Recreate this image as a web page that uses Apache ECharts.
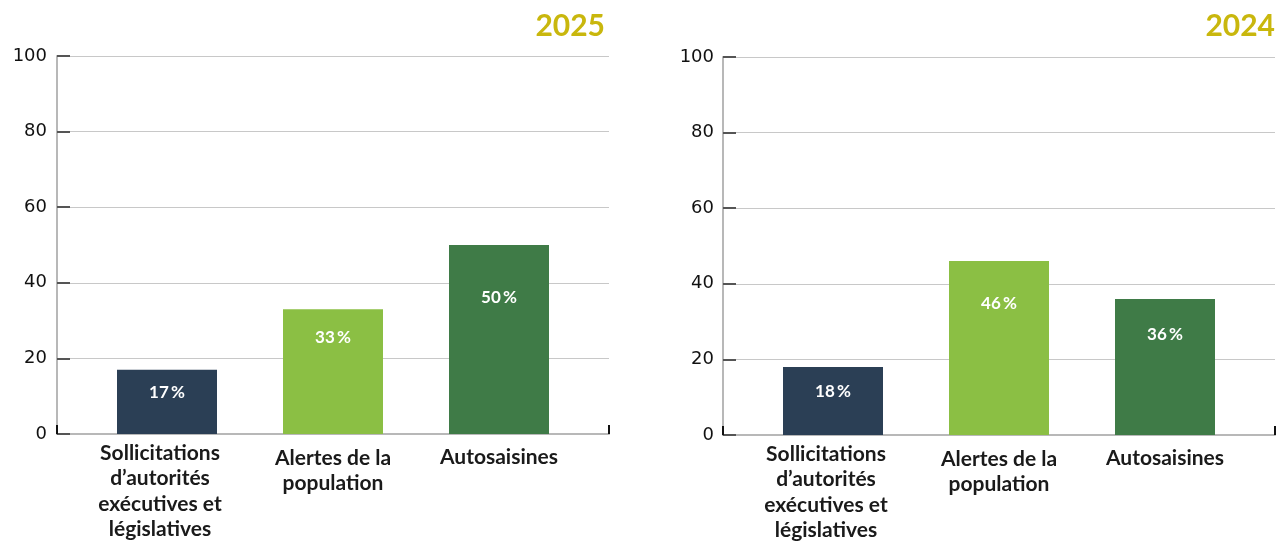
<!DOCTYPE html>
<html><head><meta charset="utf-8">
<script src="https://cdn.jsdelivr.net/npm/echarts@6/dist/echarts.min.js"></script>
<style>html,body{margin:0;padding:0;background:#fff}#c{width:1277px;height:542px}</style>
</head><body><div id="c"></div>
<script>
const categories = ['Sollicitations\nd\u2019autorités\nexécutives et\nlégislatives', 'Alertes de la\npopulation', 'Autosaisines'];
const values2025 = [17, 33, 50];
const values2024 = [18, 46, 36];
const yTicks = [0, 20, 40, 60, 80, 100];
const titles = ['2025', '2024'];

const barColors = ['#2b3f55', '#8bbf44', '#3f7b47'];
const labelDist = [[14, 20, 44], [16, 34, 27]];
const catPad = [[0, 14, 0, 0], [5, 0, 0, 0], [4, 0, 0, 0]];

const panels = [
  {vals: values2025, axisLeft: 57, top: 56, title: titles[0]},
  {vals: values2024, axisLeft: 723, top: 57, title: titles[1]}
];
const H = 378, W = 552, inset = 27;

const grid = [], xAxis = [], yAxis = [], series = [], title = [];
panels.forEach((p, i) => {
  const ga = grid.length;
  grid.push({left: p.axisLeft, top: p.top, width: W, height: H, outerBoundsMode: 'none'});
  grid.push({left: p.axisLeft + inset, top: p.top, width: W - 2 * inset, height: H, outerBoundsMode: 'none'});
  xAxis.push({gridIndex: ga, type: 'value', min: 0, max: 1, interval: 1,
    axisLine: {show: true, lineStyle: {color: '#b8b8b8', width: 2}},
    axisTick: {show: true, inside: true, length: 9, lineStyle: {color: '#111', width: 2}},
    axisLabel: {show: false}, splitLine: {show: false}});
  yAxis.push({gridIndex: ga, type: 'value', min: yTicks[0], max: yTicks[yTicks.length - 1], interval: yTicks[1] - yTicks[0],
    axisLine: {show: true, lineStyle: {color: '#b8b8b8', width: 2}},
    axisTick: {show: true, inside: true, length: 13, lineStyle: {color: '#555', width: 2}},
    axisLabel: {color: '#111', fontSize: 18, fontFamily: 'DejaVu Sans', margin: 10 - (i ? 1 : 0)},
    splitLine: {show: true, lineStyle: {color: '#c8c8c8', width: 1}}});
  xAxis.push({gridIndex: ga + 1, type: 'category',
    data: categories.map((c, k) => ({value: c, textStyle: {padding: catPad[k]}})),
    axisLine: {show: false}, axisTick: {show: false},
    axisLabel: {interval: 0, margin: 6, color: '#1a1a1a', fontSize: 21, fontWeight: 'bold',
      fontFamily: 'Lato', lineHeight: 25.5, verticalAlign: 'top'}});
  yAxis.push({gridIndex: ga + 1, type: 'value', min: 0, max: 100, show: false, splitLine: {show: false}});
  series.push({type: 'bar', xAxisIndex: ga + 1, yAxisIndex: ga + 1, barWidth: 100,
    data: p.vals.map((v, k) => ({value: v, itemStyle: {color: barColors[k]},
      label: {distance: labelDist[i][k]}})),
    label: {show: true, position: 'insideTop', color: '#fff', fontSize: 17, fontWeight: 'bold',
      fontFamily: 'Lato', formatter: '{c}\u2009%'}});
  title.push({text: p.title, right: 1277 - (p.axisLeft + W) + (i ? 0 : 4), top: 11, padding: 0,
    textStyle: {color: '#c9b70d', fontSize: 30, fontWeight: 'bold', fontFamily: 'Lato'}});
});

const chart = echarts.init(document.getElementById('c'), null, {renderer: 'canvas'});
chart.setOption({animation: false, backgroundColor: '#fff', title, grid, xAxis, yAxis, series});
</script></body></html>
